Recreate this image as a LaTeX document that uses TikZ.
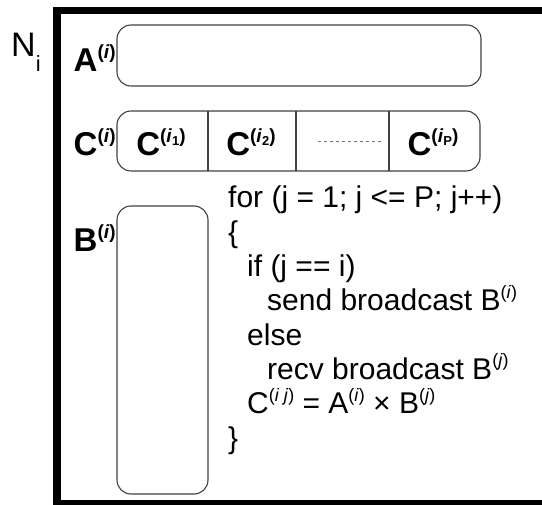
\documentclass[tikz,border=0pt]{standalone}
\usepackage{fontspec}
\setmainfont{Liberation Sans}
\newcommand\supx[1]{\raisebox{0.42em}{\fontsize{19}{19}\selectfont #1}}
\newcommand\subx[1]{\raisebox{-0.2em}{\fontsize{13}{13}\selectfont #1}}
\newcommand\supc[1]{\raisebox{0.42em}{\fontsize{18}{18}\selectfont #1}}
\tikzset{
  frame/.style={line width=7.5pt, miter limit=10},
  blk/.style={draw=black!75, line width=1.1pt, rounded corners=14pt},
  sep/.style={draw=black!75, line width=1.1pt},
  lbl/.style={inner sep=0pt, font=\fontsize{33}{36}\selectfont\bfseries},
  code/.style={inner sep=0pt, align=left, font=\fontsize{30}{34.3}\selectfont},
  dots/.style={draw=black!55, line width=1pt, dash pattern=on 3pt off 3pt}
}
\begin{document}
\begin{tikzpicture}[x=1pt, y=-1pt]
\useasboundingbox (0,0) rectangle (542,505);
\clip (0,0) rectangle (542,505);

% processor frame, open to the right
\draw[frame] (560,10.5) -- (57,10.5) -- (57,503.5) -- (560,503.5);

\node[inner sep=0pt, anchor=base west, font=\fontsize{34}{34}\selectfont] (ni) at (11,57) {N\raisebox{-0.42em}{\fontsize{22}{22}\selectfont i}};

% row block A
\draw[blk] (117,25) rectangle (481,86);
\node[lbl, anchor=base east] (alab) at (116,72) {A\supx{(\textit{i})}};

% row block C split into P parts
\draw[blk] (117,111) rectangle (480,171);
\coordinate (ctop1) at (208,111); \coordinate (cbot1) at (208,171);
\coordinate (ctop2) at (296,111); \coordinate (cbot2) at (296,171);
\coordinate (ctop3) at (389,111); \coordinate (cbot3) at (389,171);
\draw[sep] (ctop1) -- (cbot1);
\draw[sep] (ctop2) -- (cbot2);
\draw[sep] (ctop3) -- (cbot3);
\node[lbl, anchor=base east] (clab) at (116,156) {C\supx{(\textit{i})}};
\node[lbl, anchor=base] (c1) at (161,156) {C\supx{(\textit{i}\subx{1})}};
\node[lbl, anchor=base] (c2) at (251,156) {C\supx{(\textit{i}\subx{2})}};
\node[lbl, anchor=base] (cp) at (433,156) {C\supx{(\textit{i}\subx{P})}};
\coordinate (d1) at (318,142);
\coordinate (d2) at (381,142);
\draw[dots] (d1) -- (d2);

% column block B
\draw[blk] (117,206) rectangle (208,494);
\node[lbl, anchor=base east] (blab) at (116,252) {B\supx{(\textit{i})}};

% the loop run by each processor
\node[code, anchor=north west] (prog) at (228,186) {%
for (j = 1; j <= P; j++)\\
\{\\
\hspace{19pt}if (j == i)\\
\hspace{39pt}send broadcast B\supc{(\textit{i})}\\
\hspace{19pt}else\\
\hspace{39pt}recv broadcast B\supc{(\textit{j})}\\
\hspace{19pt}C\supc{(\textit{i j})} = A\supc{(\textit{i})} × B\supc{(\textit{j})}\\
\}};
\end{tikzpicture}
\end{document}
